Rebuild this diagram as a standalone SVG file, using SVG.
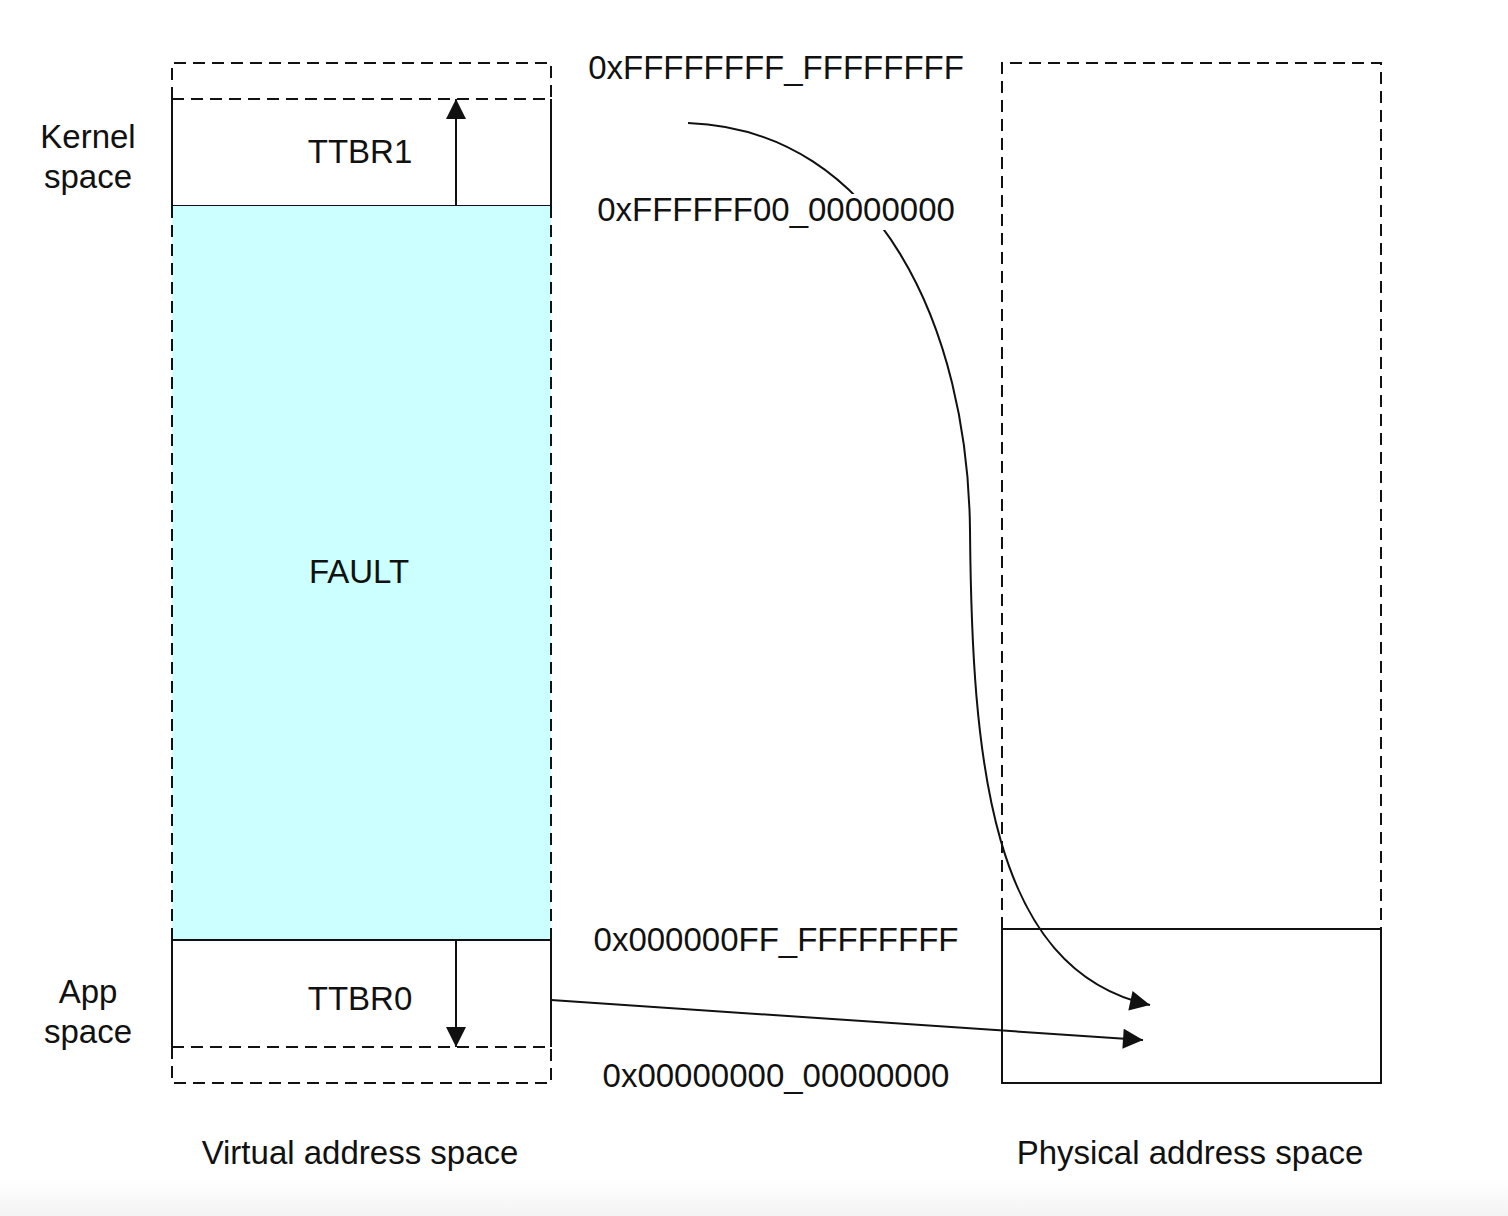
<svg xmlns="http://www.w3.org/2000/svg" width="1508" height="1216" viewBox="0 0 1508 1216">
<style>
text{font-family:"Liberation Sans",Arial,sans-serif;font-size:33px;fill:#111;text-anchor:middle}
.s{fill:none;stroke:#111;stroke-width:2}
.d{fill:none;stroke:#111;stroke-width:2;stroke-dasharray:12 7}
</style>
<defs>
<marker id="ah2" viewBox="0 0 10 10" refX="10" refY="5" markerWidth="22" markerHeight="20" markerUnits="userSpaceOnUse" orient="auto">
<path d="M0,0 L10,5 L0,10 z" fill="#111"/>
</marker>
<linearGradient id="bg" x1="0" y1="0" x2="0" y2="1">
<stop offset="0" stop-color="#ffffff"/>
<stop offset="1" stop-color="#f3f3f3"/>
</linearGradient>
</defs>
<rect width="1508" height="1216" fill="#fff"/>
<rect y="1180" width="1508" height="36" fill="url(#bg)"/>

<g id="virtual-space">
<g id="va-top">
<path class="d" d="M172,99 V63 H551 V99"/>
</g>
<g id="ttbr1">
<path class="d" d="M172,99 H551"/>
<path class="s" d="M172,99 V206 H551 V99"/>
<text x="360" y="163">TTBR1</text>
</g>
<g id="fault">
<rect x="172" y="206" width="379" height="734" fill="#CCFFFF"/>
<path class="d" d="M172,206 V940 M551,206 V940"/>
<text x="359" y="583">FAULT</text>
</g>
<g id="ttbr0">
<path class="s" d="M172,1047 V940 H551 V1047"/>
<path class="d" d="M172,1047 H551"/>
<text x="360" y="1010">TTBR0</text>
</g>
<g id="va-bottom">
<path class="d" d="M172,1047 V1083 H551 V1047"/>
</g>
<text x="360" y="1164">Virtual address space</text>
</g>

<g id="physical-space">
<g id="pa-upper">
<path class="d" d="M1002,929 V63 H1381 V929"/>
</g>
<g id="pa-lower">
<rect class="s" x="1002" y="929" width="379" height="154"/>
</g>
<text x="1190" y="1164">Physical address space</text>
</g>

<g id="connectors">
<path class="s" d="M456,206 V99" marker-end="url(#ah2)"/>
<path class="s" d="M456,940 V1047" marker-end="url(#ah2)"/>
<path class="s" d="M688,123 C880,130 968,330 970,530 C972,760 990,970 1150,1005" marker-end="url(#ah2)"/>
<path class="s" d="M551,1000 L1143,1040" marker-end="url(#ah2)"/>
</g>

<g id="labels">
<text x="88" y="148">Kernel</text>
<text x="88" y="188">space</text>
<text x="88" y="1003">App</text>
<text x="88" y="1043">space</text>
<text x="776" y="79">0xFFFFFFFF_FFFFFFFF</text>
<rect x="596" y="194" width="360" height="36" fill="#fff"/>
<text x="776" y="221">0xFFFFFF00_00000000</text>
<text x="776" y="951">0x000000FF_FFFFFFFF</text>
<text x="776" y="1087">0x00000000_00000000</text>
</g>
</svg>
